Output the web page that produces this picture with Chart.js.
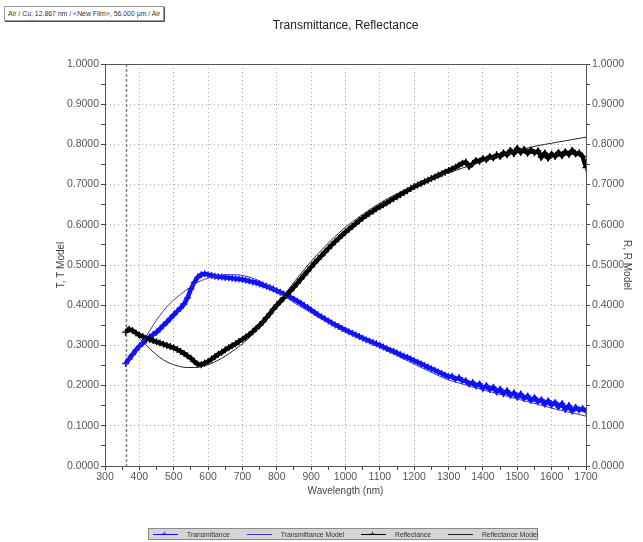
<!DOCTYPE html>
<html>
<head>
<meta charset="utf-8">
<title>Transmittance, Reflectance</title>
<script src="https://cdn.jsdelivr.net/npm/chart.js@4.4.1/dist/chart.umd.min.js"></script>
<style>
  html, body { margin: 0; padding: 0; background: #fff; }
  body { width: 643px; height: 542px; position: relative; overflow: hidden; font-family: "Liberation Sans", Arial, sans-serif; }
  #chart { position: absolute; left: 0; top: 0; }
  #stack {
    position: absolute; left: 4px; top: 6px; height: 13px; padding: 0 3px;
    font-size: 6.9px; line-height: 13px; color: #333; white-space: nowrap;
    background: #fff; border: 1px solid #999; box-shadow: 1px 1px 0 #555;
  }
  #legend {
    position: absolute; left: 148px; top: 528px; width: 390px; height: 12px;
    background: #d4d4d4; border: 1px solid #8a8a8a; box-sizing: border-box;
    display: flex; align-items: center; font-size: 6.8px; color: #333; white-space: nowrap;
  }
  #legend .item { display: flex; align-items: center; margin-left: 4px; margin-right: 13px; }
  #legend .icon { position: relative; width: 25px; height: 1px; margin-right: 9px; }
  #legend .icon span { position: absolute; left: 9px; top: -4px; font-size: 8px; line-height: 8px; }
</style>
</head>
<body>
<div id="stack">Air / Cu, 12.867 nm / &lt;New Film&gt;, 56.000 µm / Air</div>
<canvas id="chart" width="643" height="542"></canvas>
<div id="legend"></div>
<script>
// Medidas cada 10 nm, modelos cada 20 nm
const MEAS_WL = [];
for (let w = 360; w <= 1700; w += 10) MEAS_WL.push(w);
const MODEL_WL = [];
for (let w = 360; w <= 1700; w += 20) MODEL_WL.push(w);

const T_MEAS = [
  0.255, 0.266, 0.277, 0.288, 0.298, 0.306, 0.314, 0.321, 0.327, 0.333,
  0.341, 0.350, 0.358, 0.367, 0.376, 0.385, 0.393, 0.403, 0.418, 0.440,
  0.457, 0.470, 0.476, 0.478, 0.476, 0.474, 0.472, 0.471, 0.470, 0.469,
  0.468, 0.467, 0.466, 0.465, 0.464, 0.462, 0.460, 0.458, 0.456, 0.453,
  0.450, 0.447, 0.444, 0.440, 0.436, 0.432, 0.428, 0.424, 0.420, 0.415,
  0.410, 0.405, 0.399, 0.394, 0.388, 0.382, 0.376, 0.371, 0.366, 0.361,
  0.356, 0.351, 0.347, 0.342, 0.338, 0.334, 0.330, 0.326, 0.322, 0.318,
  0.314, 0.311, 0.307, 0.304, 0.300, 0.296, 0.292, 0.288, 0.285, 0.281,
  0.277, 0.273, 0.270, 0.266, 0.262, 0.258, 0.254, 0.250, 0.246, 0.242,
  0.238, 0.234, 0.230, 0.226, 0.222, 0.223, 0.216, 0.220, 0.212, 0.212,
  0.204, 0.208, 0.199, 0.204, 0.193, 0.200, 0.190, 0.196, 0.184, 0.191,
  0.180, 0.187, 0.176, 0.182, 0.171, 0.179, 0.168, 0.174, 0.163, 0.170,
  0.160, 0.165, 0.154, 0.162, 0.152, 0.158, 0.147, 0.155, 0.141, 0.150,
  0.137, 0.146, 0.139, 0.143, 0.136
];

const T_MODEL = [
  0.252, 0.272, 0.295, 0.322, 0.350, 0.375, 0.396, 0.413, 0.427, 0.440,
  0.452, 0.461, 0.467, 0.472, 0.475, 0.476, 0.476, 0.474, 0.470, 0.464,
  0.456, 0.446, 0.435, 0.424, 0.412, 0.401, 0.391, 0.381, 0.371, 0.361,
  0.351, 0.342, 0.333, 0.325, 0.317, 0.310, 0.302, 0.295, 0.287, 0.279,
  0.270, 0.262, 0.253, 0.245, 0.237, 0.229, 0.221, 0.214, 0.209, 0.204,
  0.199, 0.194, 0.189, 0.185, 0.180, 0.176, 0.171, 0.167, 0.162, 0.158,
  0.153, 0.149, 0.144, 0.140, 0.136, 0.132, 0.128, 0.124
];

const R_MEAS = [
  0.333, 0.340, 0.337, 0.331, 0.326, 0.322, 0.318, 0.315, 0.312, 0.309,
  0.306, 0.303, 0.300, 0.297, 0.294, 0.290, 0.285, 0.280, 0.274, 0.268,
  0.260, 0.253, 0.252, 0.256, 0.260, 0.266, 0.272, 0.278, 0.283, 0.289,
  0.294, 0.299, 0.304, 0.310, 0.315, 0.321, 0.327, 0.334, 0.342, 0.350,
  0.359, 0.369, 0.379, 0.390, 0.400, 0.409, 0.418, 0.427, 0.436, 0.445,
  0.455, 0.465, 0.475, 0.485, 0.495, 0.505, 0.514, 0.523, 0.532, 0.541,
  0.550, 0.558, 0.566, 0.574, 0.582, 0.589, 0.596, 0.603, 0.610, 0.617,
  0.623, 0.629, 0.634, 0.640, 0.645, 0.650, 0.655, 0.660, 0.665, 0.670,
  0.675, 0.680, 0.685, 0.690, 0.695, 0.699, 0.703, 0.707, 0.711, 0.715,
  0.719, 0.723, 0.727, 0.731, 0.735, 0.739, 0.743, 0.748, 0.753, 0.756,
  0.745, 0.752, 0.760, 0.758, 0.765, 0.762, 0.770, 0.766, 0.774, 0.770,
  0.779, 0.774, 0.785, 0.777, 0.790, 0.780, 0.788, 0.778, 0.786, 0.779,
  0.784, 0.768, 0.778, 0.766, 0.776, 0.770, 0.780, 0.772, 0.782, 0.775,
  0.785, 0.776, 0.779, 0.770, 0.742
];

const R_MODEL = [
  0.348, 0.335, 0.318, 0.300, 0.284, 0.270, 0.259, 0.252, 0.247, 0.245,
  0.245, 0.247, 0.252, 0.259, 0.268, 0.279, 0.291, 0.304, 0.319, 0.337,
  0.357, 0.378, 0.400, 0.423, 0.446, 0.468, 0.489, 0.509, 0.528, 0.546,
  0.563, 0.579, 0.594, 0.607, 0.620, 0.632, 0.643, 0.654, 0.664, 0.673,
  0.682, 0.690, 0.698, 0.705, 0.712, 0.719, 0.725, 0.729, 0.735, 0.741,
  0.747, 0.752, 0.758, 0.765, 0.770, 0.775, 0.779, 0.784, 0.789, 0.793,
  0.797, 0.800, 0.803, 0.806, 0.809, 0.812, 0.815, 0.818, 0.820
];

const DATA_START = 360;   // línea discontinua al inicio del barrido
const FONT = "'Liberation Sans', Arial, sans-serif";

const pairs = (xs, ys) => xs.map((x, i) => ({ x, y: ys[i] }));
const isMajorY = v => Math.abs(v * 10 - Math.round(v * 10)) < 1e-6;
const isMajorX = v => Math.round(v) % 100 === 0;

// Marco del gráfico y línea de inicio
const framePlugin = {
  id: "frame",
  beforeDatasetsDraw(chart) {
    const { ctx, chartArea: a, scales } = chart;
    const x = Math.round(scales.x.getPixelForValue(DATA_START)) + 0.5;
    ctx.save();
    ctx.strokeStyle = "#808080";
    ctx.lineWidth = 1.5;
    ctx.setLineDash([3, 2]);
    ctx.beginPath();
    ctx.moveTo(x, a.top);
    ctx.lineTo(x, a.bottom);
    ctx.stroke();
    ctx.restore();
  },
  afterDraw(chart) {
    const { ctx, chartArea: a } = chart;
    ctx.save();
    ctx.strokeStyle = "#555";
    ctx.lineWidth = 1;
    ctx.strokeRect(Math.round(a.left) + 0.5, Math.round(a.top) + 0.5,
                   Math.round(a.right - a.left), Math.round(a.bottom - a.top));
    ctx.restore();
  }
};

function yAxis(position, title, titlePad, width) {
  return {
    type: "linear",
    position,
    min: 0,
    max: 1,
    ticks: {
      stepSize: 0.05,
      autoSkip: false,
      padding: 2,
      color: "#555",
      font: { family: FONT, size: 10.5 },
      callback: v => isMajorY(v) ? Number(v).toFixed(4) : ""
    },
    grid: {
      drawOnChartArea: position === "left",
      color: c => (isMajorY(c.tick.value) && c.tick.value > 0.01 && c.tick.value < 0.99) ? "#aaa" : "rgba(0,0,0,0)",
      tickColor: "#444",
      tickLength: 4,
      lineWidth: 1
    },
    border: { display: true, color: "#555", dash: [1, 3] },
    title: {
      display: true,
      text: title,
      color: "#444",
      font: { family: FONT, size: 10 },
      padding: { top: titlePad, bottom: 0 }
    },
    afterFit(s) { s.width = width; }
  };
}

function initChart() {
  const ctx = document.getElementById("chart");
  return new Chart(ctx, {
    type: "line",
    data: {
      datasets: [
        {
          label: "Transmittance Model",
          data: pairs(MODEL_WL, T_MODEL),
          yAxisID: "y",
          borderColor: "#3a3abf",
          borderWidth: 1,
          pointRadius: 0,
          cubicInterpolationMode: "monotone",
          order: 0
        },
        {
          label: "Reflectance Model",
          data: pairs(MODEL_WL, R_MODEL),
          yAxisID: "y2",
          borderColor: "#222",
          borderWidth: 1,
          pointRadius: 0,
          cubicInterpolationMode: "monotone",
          order: 0
        },
        {
          label: "Reflectance",
          data: pairs(MEAS_WL, R_MEAS),
          yAxisID: "y2",
          borderColor: "#000",
          borderWidth: 4.5,
          pointStyle: "cross",
          pointRadius: 3.5,
          pointBorderWidth: 1.3,
          pointBorderColor: "#000",
          order: 1
        },
        {
          label: "Transmittance",
          data: pairs(MEAS_WL, T_MEAS),
          yAxisID: "y",
          borderColor: "#1010ff",
          borderWidth: 4.5,
          pointStyle: "cross",
          pointRadius: 3.5,
          pointBorderWidth: 1.3,
          pointBorderColor: "#1010ff",
          order: 2
        }
      ]
    },
    options: {
      responsive: false,
      animation: false,
      devicePixelRatio: 1,
      layout: { padding: { left: 0, right: 0, top: 0, bottom: 43 } },
      scales: {
        x: {
          type: "linear",
          min: 300,
          max: 1700,
          ticks: {
            stepSize: 50,
            autoSkip: false,
            maxRotation: 0,
            padding: 1,
            color: "#555",
            font: { family: FONT, size: 10.5 },
            callback: v => isMajorX(v) ? String(v) : ""
          },
          grid: {
            color: c => (isMajorX(c.tick.value) && c.tick.value > 300 && c.tick.value < 1700) ? "#aaa" : "rgba(0,0,0,0)",
            tickColor: "#444",
            tickLength: 4
          },
          border: { display: true, color: "#555", dash: [1, 3] },
          title: {
            display: true,
            text: "Wavelength (nm)",
            color: "#444",
            font: { family: FONT, size: 10 },
            padding: { top: 0, bottom: 2 }
          },
          afterFit(s) { s.height = 33; }
        },
        y: yAxis("left", "T, T Model", 55, 105),
        y2: yAxis("right", "R, R Model", 10, 57)
      },
      plugins: {
        legend: { display: false },
        tooltip: { enabled: false },
        title: {
          display: true,
          fullSize: false,
          text: "Transmittance, Reflectance",
          color: "#222",
          font: { family: FONT, size: 12, weight: "normal" },
          padding: { top: 18, bottom: 31.6 }
        }
      }
    },
    plugins: [framePlugin]
  });
}

// Leyenda inferior en el orden del programa original
function buildLegend(chart) {
  const order = ["Transmittance", "Transmittance Model", "Reflectance", "Reflectance Model"];
  const box = document.getElementById("legend");
  order.forEach(name => {
    const ds = chart.data.datasets.find(d => d.label === name);
    const item = document.createElement("div");
    item.className = "item";
    const icon = document.createElement("div");
    icon.className = "icon";
    icon.style.background = ds.borderColor;
    if (ds.pointRadius > 0) {
      const plus = document.createElement("span");
      plus.textContent = "+";
      plus.style.color = ds.borderColor;
      icon.appendChild(plus);
    }
    const txt = document.createElement("span");
    txt.textContent = name;
    item.appendChild(icon);
    item.appendChild(txt);
    box.appendChild(item);
  });
}

document.addEventListener("DOMContentLoaded", () => {
  const chart = initChart();
  buildLegend(chart);
});
</script>
</body>
</html>
